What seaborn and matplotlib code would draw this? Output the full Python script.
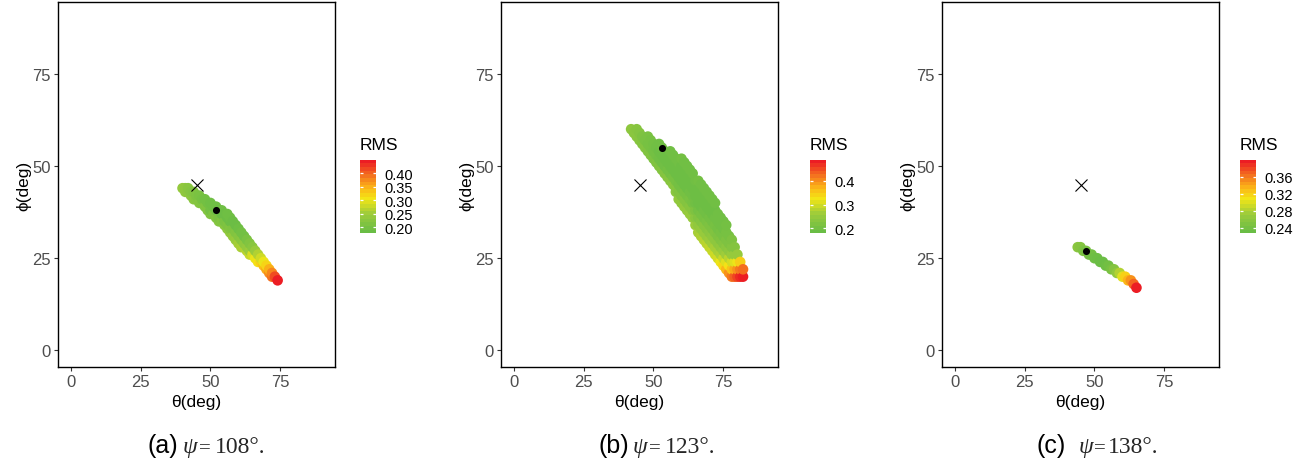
import matplotlib
matplotlib.use("Agg")
import matplotlib.pyplot as plt
import matplotlib.cm as cm
from matplotlib.colors import LinearSegmentedColormap, Normalize
import numpy as np
import pandas as pd
import seaborn as sns

# ---------------- data (theta, phi, RMS) ----------------
points_a = [
    (40, 44, 0.235), (41, 43, 0.23), (41, 44, 0.23), (42, 43, 0.225), (42, 44, 0.22),
    (43, 42, 0.225), (43, 43, 0.215), (44, 41, 0.22), (44, 43, 0.21),
    (45, 41, 0.215), (45, 42, 0.205), (46, 40, 0.215), (46, 42, 0.20),
    (47, 40, 0.21), (47, 41, 0.195), (48, 39, 0.21), (48, 41, 0.19),
    (49, 38, 0.21), (49, 40, 0.19), (50, 37, 0.21), (50, 38, 0.19), (50, 40, 0.185),
    (51, 37, 0.205), (51, 39, 0.185), (52, 36, 0.21), (52, 38, 0.185), (52, 39, 0.185),
    (53, 35, 0.215), (53, 36, 0.20), (53, 38, 0.18), (54, 35, 0.21), (54, 37, 0.18),
    (54, 38, 0.185), (55, 34, 0.22), (55, 35, 0.20), (55, 37, 0.18),
    (56, 33, 0.225), (56, 34, 0.205), (56, 36, 0.18), (56, 37, 0.185),
    (57, 32, 0.23), (57, 33, 0.21), (57, 35, 0.18), (57, 36, 0.185),
    (58, 31, 0.235), (58, 33, 0.205), (58, 35, 0.18),
    (59, 30, 0.24), (59, 32, 0.21), (59, 34, 0.18),
    (60, 29, 0.25), (60, 31, 0.215), (60, 33, 0.185),
    (61, 28, 0.255), (61, 30, 0.22), (61, 32, 0.19),
    (62, 28, 0.26), (62, 29, 0.23), (62, 31, 0.19),
    (63, 27, 0.265), (63, 28, 0.235), (63, 30, 0.20),
    (64, 26, 0.275), (64, 27, 0.245), (64, 29, 0.21),
    (65, 26, 0.285), (65, 28, 0.22), (66, 25, 0.30), (66, 27, 0.24),
    (67, 24, 0.31), (67, 26, 0.26), (68, 24, 0.325), (68, 25, 0.28),
    (69, 23, 0.34), (69, 24, 0.30), (70, 22, 0.355), (70, 23, 0.32),
    (71, 21, 0.375), (71, 22, 0.35), (72, 20, 0.395), (72, 21, 0.38),
    (73, 20, 0.42), (74, 19, 0.45),
]

points_b = [
    (42, 60, 0.235), (43, 59, 0.23),
    (44, 58, 0.23), (44, 60, 0.225), (45, 57, 0.225), (45, 59, 0.22),
    (46, 56, 0.22), (46, 58, 0.21), (47, 55, 0.22), (47, 57, 0.205),
    (48, 54, 0.215), (48, 56, 0.20), (48, 58, 0.205),
    (49, 53, 0.215), (49, 55, 0.20), (49, 57, 0.20),
    (50, 52, 0.21), (50, 54, 0.195), (50, 56, 0.195),
    (51, 51, 0.215), (51, 53, 0.195), (51, 55, 0.19),
    (52, 50, 0.215), (52, 52, 0.19), (52, 54, 0.185), (52, 56, 0.19),
    (53, 49, 0.22), (53, 51, 0.19), (53, 53, 0.185), (53, 55, 0.19),
    (54, 48, 0.22), (54, 50, 0.19), (54, 52, 0.185), (54, 54, 0.185),
    (55, 47, 0.225), (55, 49, 0.195), (55, 51, 0.185), (55, 53, 0.185),
    (56, 46, 0.225), (56, 48, 0.195), (56, 50, 0.185), (56, 52, 0.185), (56, 54, 0.19),
    (57, 45, 0.23), (57, 47, 0.20), (57, 49, 0.185), (57, 51, 0.185), (57, 53, 0.19),
    (58, 43, 0.23), (58, 44, 0.225), (58, 46, 0.20), (58, 48, 0.185), (58, 50, 0.185),
    (58, 52, 0.19),
    (59, 41, 0.24), (59, 43, 0.215), (59, 45, 0.195), (59, 47, 0.185), (59, 49, 0.185),
    (59, 51, 0.19),
    (60, 40, 0.24), (60, 42, 0.215), (60, 44, 0.195), (60, 46, 0.185), (60, 48, 0.185),
    (60, 50, 0.185), (60, 52, 0.195),
    (61, 39, 0.245), (61, 41, 0.22), (61, 43, 0.20), (61, 45, 0.185), (61, 47, 0.185),
    (61, 49, 0.185), (61, 51, 0.19),
    (62, 38, 0.245), (62, 40, 0.22), (62, 42, 0.20), (62, 44, 0.185), (62, 46, 0.185),
    (62, 48, 0.185), (62, 50, 0.19),
    (63, 37, 0.25), (63, 39, 0.225), (63, 41, 0.205), (63, 43, 0.19), (63, 45, 0.185),
    (63, 47, 0.185), (63, 49, 0.19),
    (64, 36, 0.25), (64, 38, 0.225), (64, 40, 0.20), (64, 42, 0.19), (64, 44, 0.185),
    (64, 46, 0.185), (64, 48, 0.19),
    (65, 34, 0.255), (65, 36, 0.23), (65, 38, 0.21), (65, 40, 0.19), (65, 42, 0.185),
    (65, 44, 0.185), (65, 46, 0.19),
    (66, 32, 0.265), (66, 34, 0.24), (66, 36, 0.215), (66, 38, 0.195), (66, 40, 0.185),
    (66, 42, 0.185), (66, 44, 0.185), (66, 46, 0.195),
    (67, 31, 0.27), (67, 33, 0.245), (67, 35, 0.22), (67, 37, 0.20), (67, 39, 0.185),
    (67, 41, 0.185), (67, 43, 0.185), (67, 45, 0.19),
    (68, 30, 0.275), (68, 32, 0.25), (68, 34, 0.225), (68, 36, 0.20), (68, 38, 0.19),
    (68, 40, 0.185), (68, 42, 0.185), (68, 44, 0.19),
    (69, 29, 0.28), (69, 31, 0.25), (69, 33, 0.225), (69, 35, 0.205), (69, 37, 0.19),
    (69, 39, 0.185), (69, 41, 0.185), (69, 43, 0.19),
    (70, 28, 0.285), (70, 30, 0.255), (70, 32, 0.23), (70, 34, 0.21), (70, 36, 0.195),
    (70, 38, 0.185), (70, 40, 0.185), (70, 42, 0.19),
    (71, 27, 0.29), (71, 29, 0.26), (71, 31, 0.235), (71, 33, 0.21), (71, 35, 0.195),
    (71, 37, 0.185), (71, 39, 0.185), (71, 41, 0.19),
    (72, 26, 0.295), (72, 28, 0.265), (72, 30, 0.235), (72, 32, 0.215), (72, 34, 0.20),
    (72, 36, 0.19), (72, 38, 0.185), (72, 40, 0.19),
    (73, 25, 0.30), (73, 27, 0.265), (73, 29, 0.235), (73, 31, 0.21), (73, 33, 0.195),
    (73, 35, 0.19), (73, 37, 0.19),
    (74, 24, 0.32), (74, 26, 0.27), (74, 28, 0.24), (74, 30, 0.215), (74, 32, 0.20),
    (74, 34, 0.19), (74, 36, 0.19),
    (75, 23, 0.34), (75, 25, 0.29), (75, 27, 0.25), (75, 29, 0.22), (75, 31, 0.20),
    (75, 33, 0.19), (75, 35, 0.19),
    (76, 22, 0.37), (76, 24, 0.31), (76, 26, 0.26), (76, 28, 0.23), (76, 30, 0.21),
    (76, 32, 0.20), (76, 34, 0.195),
    (77, 21, 0.40), (77, 23, 0.33), (77, 25, 0.28), (77, 27, 0.235), (77, 29, 0.21),
    (77, 31, 0.20),
    (78, 20, 0.42), (78, 22, 0.36), (78, 24, 0.30), (78, 26, 0.25), (78, 28, 0.22),
    (78, 30, 0.21),
    (79, 20, 0.44), (79, 22, 0.38), (79, 24, 0.31), (79, 26, 0.25), (79, 28, 0.22),
    (80, 20, 0.46), (80, 22, 0.40), (80, 24, 0.32), (80, 26, 0.25),
    (81, 20, 0.48), (81, 22, 0.42), (81, 24, 0.35),
    (82, 20, 0.49), (82, 22, 0.43),
]

points_c = [
    (44, 28, 0.255), (45, 28, 0.25), (46, 27, 0.245), (47, 27, 0.24),
    (48, 26, 0.237), (49, 26, 0.235), (50, 25, 0.232), (51, 25, 0.23),
    (52, 24, 0.228), (53, 24, 0.228), (54, 23, 0.23), (55, 23, 0.234),
    (56, 22, 0.24), (57, 22, 0.25), (58, 21, 0.262), (59, 21, 0.28),
    (60, 20, 0.30), (61, 20, 0.32), (62, 19, 0.335), (63, 19, 0.35),
    (64, 18, 0.37), (65, 17, 0.40),
]

best_points = [(52, 38), (53, 55), (47, 27)]
cross_point = (45, 45)

rms_ranges = [(0.177, 0.45), (0.179, 0.49), (0.227, 0.40)]
rms_ticks = [[0.20, 0.25, 0.30, 0.35, 0.40], [0.2, 0.3, 0.4], [0.24, 0.28, 0.32, 0.36]]
rms_ticklabels = [["0.20", "0.25", "0.30", "0.35", "0.40"], ["0.2", "0.3", "0.4"],
                  ["0.24", "0.28", "0.32", "0.36"]]

axis_ticks = [0, 25, 50, 75]
caption_letters = ["(a)", "(b)", "(c)"]
caption_angles = ["108°.", "123°.", "138°."]

# ---------------- style ----------------
sns.set_theme(style="white")
plt.rcParams["font.family"] = ["Liberation Sans", "DejaVu Sans"]

cmap = LinearSegmentedColormap.from_list(
    "rms",
    [(0.0, "#6ABD45"), (0.25, "#9CCB3B"), (0.47, "#F3E616"),
     (0.62, "#FBB617"), (0.80, "#F4701F"), (1.0, "#EC1D24")],
)

W, H = 1309, 464
fig = plt.figure(figsize=(W / 100, H / 100), dpi=100)


def px_axes(l, t, r, b):
    return fig.add_axes([l / W, 1 - b / H, (r - l) / W, (b - t) / H])


ax_lefts = [58, 501, 942]
cb_lefts = [360, 810, 1240]
# right edge of letter, left of psi, left of '=', left of number (pixels)
cap_pos = [(178.5, 183, 199, 215), (629, 633, 649, 665), (1066, 1079, 1094, 1108)]

panels = [points_a, points_b, points_c]
SERIF = ["Liberation Serif", "DejaVu Serif"]

for i, pts in enumerate(panels):
    l = ax_lefts[i]
    ax = px_axes(l, 3, l + 277, 368)
    df = pd.DataFrame(pts, columns=["theta", "phi", "rms"]).sort_values(["theta", "phi"])
    norm = Normalize(*rms_ranges[i])
    sns.scatterplot(data=df, x="theta", y="phi", hue="rms", palette=cmap,
                    hue_norm=norm, s=58, linewidth=0, edgecolor="none",
                    legend=False, ax=ax, zorder=2)
    bx, by = best_points[i]
    sns.scatterplot(x=[bx], y=[by], color="black", s=26, linewidth=0,
                    legend=False, ax=ax, zorder=3)
    sns.scatterplot(x=[cross_point[0]], y=[cross_point[1]], marker="x",
                    color="black", s=75, linewidth=0.8, legend=False, ax=ax,
                    zorder=3)
    ax.set_xlim(-4.5, 94.5)
    ax.set_ylim(-4.5, 94.5)
    ax.set_xticks(axis_ticks)
    ax.set_yticks(axis_ticks)
    ax.tick_params(direction="out", length=3, width=0.8, color="#333333",
                   labelsize=12, labelcolor="#4D4D4D", pad=2,
                   bottom=True, left=True)
    for sp in ax.spines.values():
        sp.set_visible(True)
        sp.set_color("black")
        sp.set_linewidth(1.0)
    ax.set_xlabel("θ(deg)", fontsize=12.5, color="black", labelpad=4)
    ax.set_ylabel("ϕ(deg)", fontsize=12.5, color="black", labelpad=1)
    ax.set_facecolor("white")

    # colour bar
    cb_l = cb_lefts[i]
    cax = px_axes(cb_l, 160.7, cb_l + 16, 234.3)
    sm = cm.ScalarMappable(norm=norm, cmap=cmap.resampled(20))
    cb = fig.colorbar(sm, cax=cax)
    cb.outline.set_visible(False)
    cb.set_ticks(rms_ticks[i])
    cb.set_ticklabels(rms_ticklabels[i])
    cax.tick_params(length=0, labelsize=10.5, pad=6, labelcolor="black")
    cax.hlines(rms_ticks[i], 0, 0.2, colors="white", linewidth=0.9)
    cax.hlines(rms_ticks[i], 0.8, 1.0, colors="white", linewidth=0.9)
    fig.text(cb_l / W, 1 - 145 / H, "RMS", fontsize=12.5, ha="left",
             va="center", color="black")

    # caption
    xr, xpsi, xeq, xnum = cap_pos[i]
    yb = 1 - 453 / H
    fig.text(xr / W, yb, caption_letters[i], fontsize=18, ha="right",
             va="baseline", color="black")
    fig.text(xpsi / W, yb, "ψ", fontsize=17, ha="left", va="baseline",
             style="italic", family=SERIF)
    fig.text(xeq / W, yb, "=", fontsize=15, ha="left", va="baseline", family=SERIF)
    fig.text(xnum / W, yb, caption_angles[i], fontsize=17, ha="left",
             va="baseline", family=SERIF)

fig.savefig("out.png", dpi=100, facecolor="white")
